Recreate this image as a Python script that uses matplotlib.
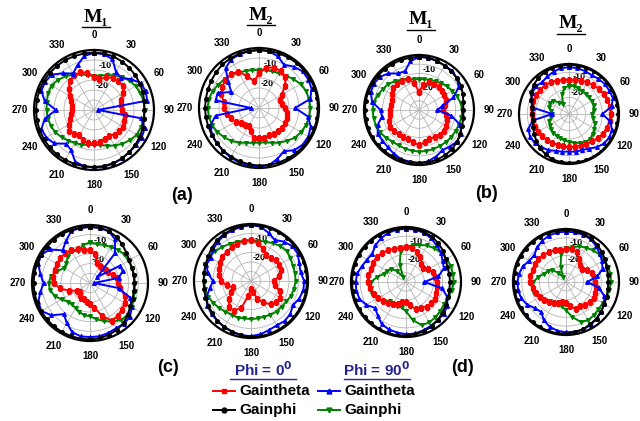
import numpy as np
import matplotlib.pyplot as plt
from matplotlib.lines import Line2D

plt.rcParams['font.family'] = ['Liberation Sans', 'DejaVu Sans']

# angles of the samples (deg), gains in dB
angles = np.arange(0, 360, 10)

# ---- (a) M1
a1_red = [-13.5, -14.5, -12.5, -11.5, -11, -11.3, -13, -15.5, -16.5, -16, -14.5, -14,
          -13.5, -13.5, -14, -15, -14.5, -13.8, -13.4, -13, -14, -15.3, -14.3, -14,
          -15.5, -17, -18.5, -19, -19, -17.5, -16, -13.5, -11, -10, -10, -11]
a1_black = [-1.3, -1.3, -1.5, -2, -2.5, -3, -3.5, -4, -4.5, -4.8, -4.5, -4,
            -3.5, -3, -2.5, -2, -1.7, -1.5, -1.5, -1.4, -1.3, -1.2, -1, -1,
            -1, -1, -1, -1, -1, -1, -1, -1.1, -1.2, -1.2, -1.3, -1.3]
a1_blue = [-1.5, -1.7, -3, -8, -9, -6, -3, -2.5, -3, -28, -6, -3,
           -2.5, -2.5, -2.5, -2, -1.5, -1.2, -1.2, -1.5, -2.5, -7, -8, -4,
           -2.5, -2, -5, -11, -5, -2, -1.8, -2.5, -6, -9, -6, -2.5]
a1_green = [-13, -12.5, -11.5, -10, -8.5, -7, -6, -5.3, -4.8, -4.7, -4.8, -5,
            -5.3, -6.5, -8, -9.5, -11, -12.2, -12.6, -12.3, -11.5, -11, -10, -8.8,
            -7.7, -7, -6.5, -6.3, -6, -5.6, -5.5, -6.5, -8, -9.5, -11, -12.3]

# ---- (a) M2
a2_red = [-12.5, -9.5, -8.5, -8.4, -9.5, -13, -17, -19, -18.5, -17, -16, -15.3,
          -15, -14.8, -15, -15.2, -15.5, -15, -15, -15, -18, -19.5, -19, -18,
          -16.5, -15, -13.5, -12.5, -12, -10, -8.8, -8, -8, -9, -13, -16.5]
a2_black = [-1, -1, -0.9, -0.8, -0.7, -0.6, -0.5, -0.5, -0.5, -0.5, -0.5, -0.5,
            -0.6, -0.7, -0.8, -0.9, -1, -1.1, -1.2, -1.4, -1.6, -1.9, -2.2, -2.5,
            -2.8, -3, -3, -3, -3, -2.8, -2.5, -2, -1.6, -1.3, -1.1, -1]
a2_blue = [-1, -1.2, -2.5, -5, -3, -1.5, -1.5, -2, -4, -12, -5, -2.5,
           -1.5, -1.5, -2.5, -5, -3, -1, -0.7, -0.8, -1, -1.5, -2, -2.5,
           -3, -4, -8, -26, -8, -8, -14, -10, -4, -2, -1.5, -1.2]
a2_green = [-11, -10.8, -10.5, -10, -9, -7.5, -6, -5, -4.5, -4.3, -4.5, -5,
            -5.8, -6.8, -8.5, -10, -11.5, -12.5, -12.7, -12.3, -11.5, -10, -8.5, -7.2,
            -6, -5, -4.5, -4.3, -4.5, -5.3, -6.5, -7.5, -8.5, -9.5, -10.3, -10.8]

# ---- (b) M1
b1_red = [-20, -16, -14, -13.5, -13.3, -13.5, -14, -14.3, -15.5, -17, -15, -13.5,
          -12.7, -12.5, -12.5, -13, -13.4, -12, -11, -12, -13, -13, -12.7, -12,
          -11.5, -12.5, -14, -14.2, -14.3, -14.3, -13, -11.5, -11.3, -11.5, -12, -15]
b1_black = [-1, -1, -1.5, -2, -2.5, -3, -3.5, -4.5, -5.5, -6, -5.5, -5,
            -4, -3, -2, -1.5, -1.2, -1, -1, -1, -1, -0.8, -0.7, -0.6,
            -0.5, -0.5, -0.5, -0.5, -0.5, -0.6, -0.7, -0.8, -0.9, -1, -1, -1]
b1_blue = [-1, -1, -1.5, -2, -2, -3, -5, -10, -17, -20, -12, -6,
           -3.5, -3, -4, -4.5, -3, -1.5, -1.2, -1.3, -1.5, -2.5, -3.5, -4,
           -4, -6, -9.5, -9, -4, -2, -1.5, -2, -4, -7, -7.5, -3]
b1_green = [-13.2, -13, -12.5, -12, -11, -10, -9, -8, -7, -6.4, -6.5, -6.8,
            -7, -7, -7.2, -7.3, -7.3, -7.3, -7.3, -7.5, -7.6, -7.7, -7.5, -6.5,
            -5.5, -5, -4.8, -4.7, -5, -6, -7.2, -8, -9.5, -11, -12, -13]

# ---- (b) M2
b2_red = [-9.5, -9.3, -8.7, -8, -7.3, -6.5, -6, -5.5, -5, -5, -5.3, -5.8,
          -6.5, -7.5, -8.5, -9.2, -9.8, -10, -10, -10.2, -10.3, -10, -9.5, -9,
          -8.5, -8, -7.8, -7.7, -7.6, -7.3, -7, -7.2, -7.6, -8, -8.7, -9.2]
b2_black = [-0.5, -0.5, -0.5, -0.5, -0.5, -0.5, -0.5, -0.5, -0.5, -0.5, -0.5, -0.5,
            -0.5, -0.5, -0.5, -0.5, -0.5, -0.6, -0.7, -0.8, -1, -2, -3, -4.5,
            -6, -7, -8, -8, -7.5, -6, -4, -2.5, -1.5, -1, -0.7, -0.5]
b2_blue = [-2, -2, -2.5, -3, -2.5, -2, -2, -2, -4, -10, -5, -2.5,
           -2, -2.5, -4, -6, -7, -7, -7.5, -7, -6.5, -5, -4, -3,
           -3, -4, -8, -20, -8, -6, -4.5, -4, -5, -4, -3, -2]
b2_green = [-13, -13, -13.5, -14, -14.2, -14.3, -14.3, -14.3, -15, -16, -15.5, -13.5,
            -12.4, -11.5, -10.3, -10.5, -11.5, -12.5, -13.3, -14, -14.5, -15, -15.5, -16,
            -16.8, -17.5, -19, -20, -19, -17.5, -16.5, -17.5, -21, -23, -17.5, -14]

# ---- (c) M1
c1_red = [-13, -15, -19, -20, -20, -19.5, -19, -17.5, -16, -15.4, -14, -11,
          -9.3, -8.5, -7.8, -7.5, -12, -17, -19, -20, -21, -21, -22, -23,
          -22, -18.5, -14, -11.5, -10.8, -10.5, -10.2, -10, -10, -10.5, -11.5, -12.5]
c1_black = [-1, -1, -1.5, -2.5, -4, -5.5, -6.5, -7, -7, -7, -7, -6.5,
            -6, -4.5, -3, -2, -1.5, -1, -0.8, -0.8, -0.8, -0.8, -0.8, -0.8,
            -0.8, -0.8, -0.8, -0.8, -0.8, -0.8, -0.8, -0.8, -0.8, -0.8, -0.9, -1]
c1_blue = [-1, -1, -1.5, -4, -10, -25, -12, -12, -15, -28, -15, -8,
           -5, -3, -2.5, -3, -2.5, -2, -2, -2, -3, -6, -9, -4,
           -1, -1.5, -4, -6, -4, -1.5, -0.8, -3, -8, -5, -1.5, -1]
c1_green = [-9, -9.5, -9, -8.5, -7.5, -7, -7, -6.8, -6.8, -6.8, -6.5, -6,
            -5, -4.5, -5, -7, -9, -11, -12.8, -13, -14, -15, -15.5, -15,
            -13, -10.5, -9, -8.6, -9.5, -12, -14.5, -14, -12, -11, -12.5, -10]

# ---- (c) M2
c2_red = [-8.5, -9.5, -12, -14, -14, -13, -13, -13, -15, -18, -17, -14,
          -12.5, -12.5, -14, -17, -20, -24, -26, -22, -15, -12, -12, -15,
          -18, -20, -17, -14, -13, -12, -11, -10, -10, -9.5, -9, -8.5]
c2_black = [-0.5, -0.5, -0.5, -0.5, -0.5, -0.5, -0.5, -0.5, -0.5, -0.5, -0.5, -0.5,
            -0.5, -0.5, -0.5, -0.5, -0.5, -0.5, -0.5, -1, -1.5, -2, -2.5, -3.5,
            -4, -4.5, -5, -5, -5, -4.5, -4, -3, -2, -1.5, -1, -0.7]
c2_blue = [-0.5, -1, -3, -5, -3, -1.5, -1.5, -3, -3.5, -2, -2, -3,
           -4.5, -3, -2.5, -3, -2.5, -1.5, -1, -1, -1.5, -2, -2.5, -3,
           -3.5, -5, -8, -10, -7, -5, -5.5, -4, -3, -2, -1.5, -1]
c2_green = [-8.5, -8.5, -8, -7, -6, -5.5, -6, -6.5, -6.5, -6.5, -7, -7.5,
            -8.5, -9, -9, -9.5, -10, -10, -10, -10, -9.5, -9.5, -9, -8,
            -7, -6, -5.5, -5.3, -5, -4.5, -4.5, -5.5, -6.5, -7.5, -8, -8.5]

# ---- (d) M1
d1_red = [-11, -11, -12.5, -14.5, -17, -18, -16, -14.3, -13.8, -13.3, -12.8, -12.3,
          -12, -12, -12.5, -13.5, -14.5, -17, -19, -19, -17.5, -16, -15, -13.5,
          -12.5, -11.5, -10, -9, -9, -9.5, -9, -9, -9.5, -10, -11, -11]
d1_black = [-0.5, -0.5, -1, -1.5, -2.5, -3.5, -5, -6, -6, -6, -6, -5.5,
            -5, -4, -3, -2, -1.5, -1, -0.8, -0.5, -0.5, -0.5, -0.5, -0.5,
            -0.5, -0.5, -0.5, -0.5, -0.5, -0.5, -0.5, -0.5, -0.5, -0.5, -0.5, -0.5]
d1_blue = [-1, -1, -1.5, -2.5, -4, -5, -7, -8, -12, -20, -10, -6,
           -4, -3, -3, -2.5, -2, -1.5, -1.5, -2, -2.5, -3.5, -6, -8,
           -5, -3, -2.5, -2.5, -3, -4.5, -5.5, -6, -4, -2.5, -1.5, -1]
d1_green = [-11, -9.5, -8.5, -7, -6, -5, -4.5, -4, -4, -4, -4.5, -5.5,
            -6, -5.5, -5, -4.5, -5, -9, -14, -16, -16, -16, -16.5, -14,
            -12, -10.5, -10.5, -11, -14, -17, -18, -19, -22, -27, -20, -13]

# ---- (d) M2
d2_red = [-11.5, -11, -12, -15, -17.5, -18.5, -16, -14.5, -14, -13.5, -13, -12.5,
          -12, -12.5, -13, -14, -14, -16, -18, -18.5, -17.5, -16, -15, -14,
          -13, -12, -11, -9.5, -9.5, -10, -9.5, -9.5, -10, -10.5, -11, -11.5]
d2_black = [-0.5, -0.5, -1, -1.5, -2.5, -3.5, -4.5, -5.5, -6, -6, -6, -5.5,
            -5, -4, -3, -2.5, -1.5, -1, -0.8, -0.5, -0.5, -0.5, -0.5, -0.5,
            -0.5, -0.5, -0.5, -0.5, -0.5, -0.5, -0.5, -0.5, -0.5, -0.5, -0.5, -0.5]
d2_blue = [-1.5, -1.5, -1.5, -2, -3.5, -5, -6.5, -8, -12, -18, -11, -7,
           -5, -4, -3, -2, -1.5, -1.5, -1.5, -2, -3, -5, -8, -7,
           -4.5, -3, -2.5, -2.5, -3, -4, -6, -6.5, -4.5, -3, -2, -1.5]
d2_green = [-11, -10, -8.5, -7.5, -6.5, -5.5, -5, -4.5, -4.5, -4.5, -5, -5.5,
            -6, -6, -5.5, -5, -6, -10, -14, -16, -16.5, -16, -16, -14.5,
            -12.5, -11, -11, -11.5, -14, -16.5, -18, -19.5, -23, -27, -21, -14]

W, H = 640, 421
fig = plt.figure(figsize=(W / 100, H / 100), dpi=100)

# (center x, center y, radius) in pixels, then the four curves
panels = [
    ((94, 110, 60), a1_red, a1_black, a1_blue, a1_green),
    ((259, 108, 60), a2_red, a2_black, a2_blue, a2_green),
    ((419, 110, 55), b1_red, b1_black, b1_blue, b1_green),
    ((569, 114, 50), b2_red, b2_black, b2_blue, b2_green),
    ((90, 283, 58), c1_red, c1_black, c1_blue, c1_green),
    ((251, 281, 57), c2_red, c2_black, c2_blue, c2_green),
    ((406, 282, 55), d1_red, d1_black, d1_blue, d1_green),
    ((566, 282, 53), d2_red, d2_black, d2_blue, d2_green),
]

styles = {
    'red': dict(color='#ff0000', marker='s'),
    'black': dict(color='black', marker='o'),
    'blue': dict(color='#0000ff', marker='^'),
    'green': dict(color='#008000', marker='v'),
}

th = np.deg2rad(np.append(angles, 360))


def closed(v):
    return np.append(v, v[0])


for (cx, cy, r), red, black, blue, green in panels:
    ax = fig.add_axes([(cx - r) / W, 1 - (cy + r) / H, 2 * r / W, 2 * r / H],
                      projection='polar')
    ax.set_theta_zero_location('N')
    ax.set_theta_direction(-1)
    ax.set_ylim(-30, 0)
    ax.set_thetagrids(range(0, 360, 30), labels=[str(a) for a in range(0, 360, 30)],
                      fontsize=7, fontweight='bold')
    ax.set_rgrids([-25, -20, -15, -10, -5], labels=['', '-20', '', '-10', ''],
                  angle=6, fontsize=6.5, fontweight='bold')
    ax.grid(color='#b4b4b4', linewidth=0.6)
    ax.tick_params(axis='x', pad=0)
    ax.spines['polar'].set_linewidth(1.6)
    for vals, key in [(green, 'green'), (red, 'red'), (blue, 'blue'), (black, 'black')]:
        ax.plot(th, closed(vals), linewidth=1.4, markersize=2.6, **styles[key])

# column titles
serif = ['Liberation Serif', 'DejaVu Serif']
for x, y, t in [(96, 17, 'M\u2081'), (261, 15, 'M\u2082'), (421, 20, 'M\u2081'), (571, 24, 'M\u2082')]:
    fig.text(x / W, 1 - y / H, t, family=serif, fontsize=14, fontweight='bold',
             ha='center', va='center')
    fig.add_artist(Line2D([(x - 14) / W, (x + 14) / W], [1 - (y + 10) / H] * 2,
                          color='black', linewidth=1.0))

# panel letters
for x, y, t in [(182, 195, '(a)'), (487, 193, '(b)'), (168, 368, '(c)'), (463, 368, '(d)')]:
    fig.text(x / W, 1 - y / H, t, fontsize=13, fontweight='bold', ha='center', va='center')

# legend
navy = '#23238e'
for x, t in [(263, 'Phi = 0$^{\\mathbf{0}}$'), (377, 'Phi = 90$^{\\mathbf{0}}$')]:
    fig.text(x / W, 1 - 370 / H, t, fontsize=11, fontweight='bold', color=navy,
             ha='center', va='center')
    fig.add_artist(Line2D([(x - 33) / W, (x + 33) / W], [1 - 379 / H] * 2,
                          color=navy, linewidth=1.0))

legend_rows = [(213, 391, 'red', 'Gaintheta'), (213, 410, 'black', 'Gainphi'),
               (318, 391, 'blue', 'Gaintheta'), (318, 410, 'green', 'Gainphi')]
for x, y, key, t in legend_rows:
    fig.add_artist(Line2D([x / W, (x + 11) / W, (x + 22) / W], [1 - y / H] * 3,
                          linewidth=1.4, markersize=3.5, markevery=[1], **styles[key]))
    fig.text((x + 26) / W, 1 - y / H, t, fontsize=11, fontweight='bold',
             ha='left', va='center')

fig.savefig('out.png', dpi=100)
